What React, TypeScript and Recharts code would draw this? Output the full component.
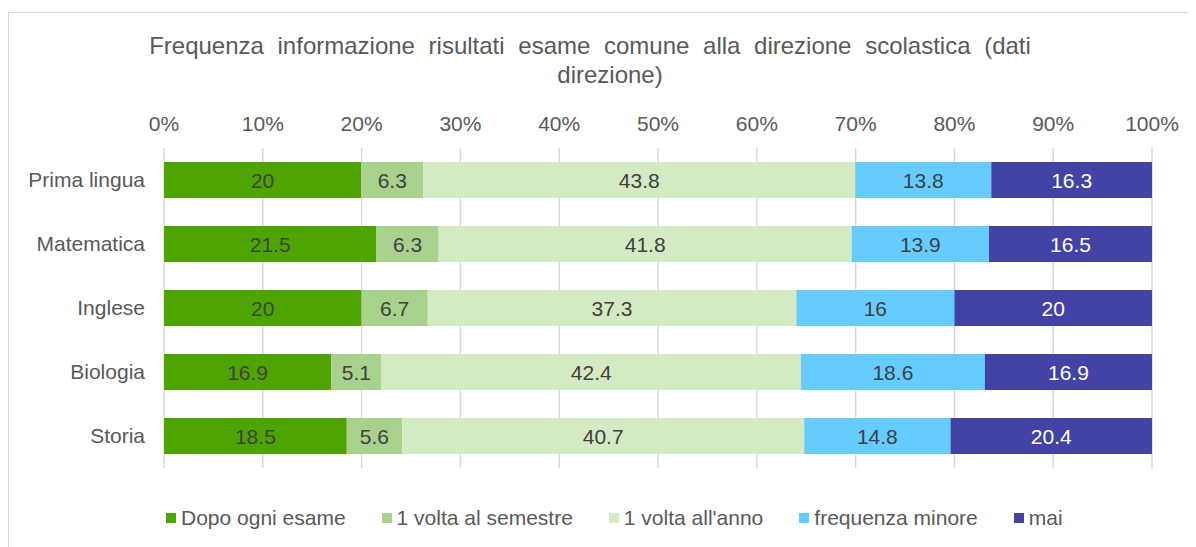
import React from "react";
import { BarChart, Bar, XAxis, YAxis, CartesianGrid, LabelList } from "recharts";

const subjects = ["Prima lingua", "Matematica", "Inglese", "Biologia", "Storia"];
const dopoOgniEsame = [20, 21.5, 20, 16.9, 18.5];
const voltaSemestre = [6.3, 6.3, 6.7, 5.1, 5.6];
const voltaAnno = [43.8, 41.8, 37.3, 42.4, 40.7];
const frequenzaMinore = [13.8, 13.9, 16, 18.6, 14.8];
const mai = [16.3, 16.5, 20, 16.9, 20.4];
const percentTicks = [0, 0.1, 0.2, 0.3, 0.4, 0.5, 0.6, 0.7, 0.8, 0.9, 1];

const series = [
  { key: "dopo", name: "Dopo ogni esame", color: "#4ea500", label: "#404040" },
  { key: "semestre", name: "1 volta al semestre", color: "#a9d18e", label: "#404040" },
  { key: "anno", name: "1 volta all'anno", color: "#d4eac2", label: "#404040" },
  { key: "minore", name: "frequenza minore", color: "#66ccff", label: "#404040" },
  { key: "mai", name: "mai", color: "#4343a6", label: "#ffffff" },
];

const data = subjects.map((s, i) => ({
  subject: s,
  dopo: dopoOgniEsame[i],
  semestre: voltaSemestre[i],
  anno: voltaAnno[i],
  minore: frequenzaMinore[i],
  mai: mai[i],
}));

const font = "'Liberation Sans', Arial, sans-serif";
const textColor = "#595959";

export default function App() {
  return (
    <div style={{ position: "relative", width: 1188, height: 539, overflow: "hidden", fontFamily: font }}>
      {/* chart frame, cut off on the right and bottom like the source */}
      <div style={{ position: "absolute", left: 0, top: 4, width: 1200, height: 600, border: "1px solid #d9d9d9" }} />

      <div style={{ position: "absolute", left: 82, top: 24, width: 1000, textAlign: "center", fontSize: 24, wordSpacing: 7, color: textColor, lineHeight: "28px", whiteSpace: "nowrap" }}>
        Frequenza informazione risultati esame comune alla direzione scolastica (dati
      </div>
      <div style={{ position: "absolute", left: 102, top: 53, width: 1000, textAlign: "center", fontSize: 24, color: textColor, lineHeight: "28px" }}>
        direzione)
      </div>

      <BarChart
        width={1188}
        height={539}
        data={data}
        layout="vertical"
        stackOffset="expand"
        barCategoryGap="22%"
        margin={{ top: 110, right: 44, bottom: 79, left: 0 }}
        style={{ position: "absolute", left: 0, top: 0 }}
      >
        <CartesianGrid horizontal={false} stroke="#d9d9d9" strokeWidth={1.5} />
        <XAxis
          type="number"
          orientation="top"
          domain={[0, 1]}
          ticks={percentTicks}
          tickFormatter={(v: number) => `${Math.round(v * 100)}%`}
          axisLine={false}
          tickLine={false}
          tickSize={6}
          tickMargin={11}
          height={30}
          interval={0}
          tick={{ fill: textColor, fontSize: 21, fontFamily: font }}
        />
        <YAxis
          type="category"
          dataKey="subject"
          width={156}
          axisLine={false}
          tickLine={false}
          tickSize={6}
          tickMargin={13}
          tick={{ fill: textColor, fontSize: 21, fontFamily: font }}
        />
        {series.map((s) => (
          <Bar key={s.key} dataKey={s.key} name={s.name} stackId="a" fill={s.color} isAnimationActive={false}>
            <LabelList dataKey={s.key} position="center" fill={s.label} fontSize={21} fontFamily={font} />
          </Bar>
        ))}
      </BarChart>

      <div style={{ position: "absolute", left: 158, top: 498, display: "flex", alignItems: "center", gap: 36, fontSize: 21, color: textColor, height: 24 }}>
        {series.map((s) => (
          <div key={s.key} style={{ display: "flex", alignItems: "center" }}>
            <span style={{ display: "inline-block", width: 10, height: 10, background: s.color, marginRight: 5 }} />
            <span>{s.name}</span>
          </div>
        ))}
      </div>
    </div>
  );
}
